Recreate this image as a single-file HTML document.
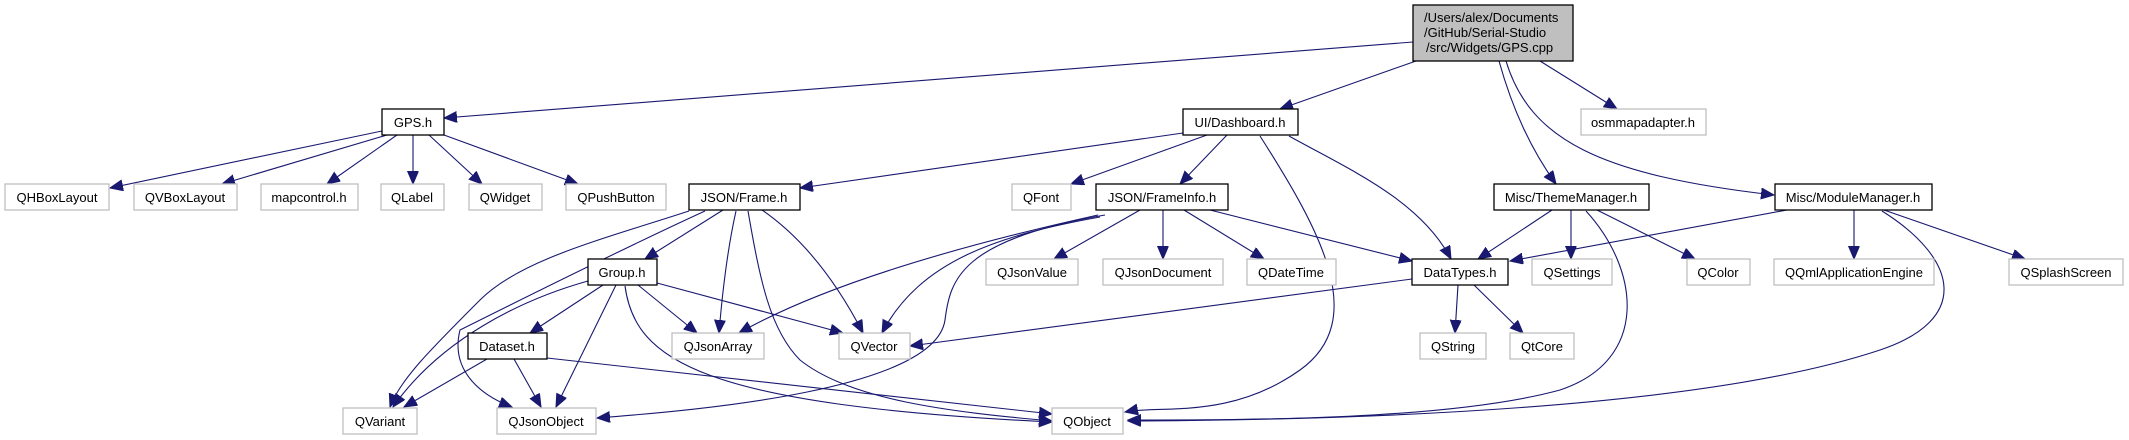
<!DOCTYPE html>
<html><head><meta charset="utf-8"><style>
html,body{margin:0;padding:0;background:#fff;}
svg{display:block;}
text{font-family:"Liberation Sans",Arial,sans-serif;font-size:13px;fill:#000;}
.n{fill:#fff;stroke:#000;stroke-width:1.3;}
.g{fill:#fff;stroke:#bfbfbf;stroke-width:1.3;}
.e{fill:none;stroke:#191970;stroke-width:1.1;marker-end:url(#a);}
</style></head><body>
<svg width="2129" height="440" viewBox="0 0 2129 440" xmlns="http://www.w3.org/2000/svg">
<defs><marker id="a" markerUnits="userSpaceOnUse" markerWidth="16" markerHeight="14" refX="13" refY="5.5" orient="auto"><path d="M0,0 L13,5.5 L0,11 Z" fill="#191970" stroke="#191970"/></marker></defs>
<g>
<path class="e" d="M1413,42 L444,118"/>
<path class="e" d="M1416,61 L1280,109"/>
<path class="e" d="M1540,61 L1617,109"/>
<path class="e" d="M1499,61 Q1519,133 1556,184"/>
<path class="e" d="M1506,61 C1530,140 1600,175 1774,195"/>
<path class="e" d="M382,131 L110,188"/>
<path class="e" d="M387,135 L222,184"/>
<path class="e" d="M397,135 L327,184"/>
<path class="e" d="M413,135 L413,184"/>
<path class="e" d="M429,135 L482,184"/>
<path class="e" d="M444,135 L578,184"/>
<path class="e" d="M1183,133 L800,188"/>
<path class="e" d="M1207,135 L1071,184"/>
<path class="e" d="M1227,135 L1180,184"/>
<path class="e" d="M1260,136 C1320,230 1370,320 1300,370 S1160,405 1125,412"/>
<path class="e" d="M1289,136 C1350,170 1420,200 1451,259"/>
<path class="e" d="M1210,210 L1412,261"/>
<path class="e" d="M1184,210 L1264,259"/>
<path class="e" d="M1163,210 L1163,259"/>
<path class="e" d="M1140,210 L1054,259"/>
<path class="e" d="M1098,215 Q850,270 739,333"/>
<path class="e" d="M1100,217 C1000,235 920,260 882,333"/>
<path class="e" d="M1105,215 C960,240 950,280 945,320 C935,390 700,410 597,418"/>
<path class="e" d="M723,210 L645,259"/>
<path class="e" d="M736,211 Q725,260 719,333"/>
<path class="e" d="M762,210 Q820,250 863,333"/>
<path class="e" d="M748,211 C760,280 770,330 800,360 C850,400 950,412 1052,421"/>
<path class="e" d="M689,211 C600,240 520,260 480,300 C430,350 400,380 390,407"/>
<path class="e" d="M705,211 C620,250 520,300 460,330 C450,370 480,395 512,407"/>
<path class="e" d="M603,285 L530,333"/>
<path class="e" d="M616,285 L556,407"/>
<path class="e" d="M638,285 L697,333"/>
<path class="e" d="M657,283 L843,333"/>
<path class="e" d="M588,281 C520,300 440,340 393,407"/>
<path class="e" d="M625,286 C635,360 700,405 1052,422"/>
<path class="e" d="M487,359 L404,407"/>
<path class="e" d="M514,359 L541,407"/>
<path class="e" d="M547,358 L1052,414"/>
<path class="e" d="M1412,279 L910,346"/>
<path class="e" d="M1458,285 L1455,333"/>
<path class="e" d="M1474,285 L1523,333"/>
<path class="e" d="M1552,210 L1478,259"/>
<path class="e" d="M1571,210 L1571,259"/>
<path class="e" d="M1597,210 L1695,259"/>
<path class="e" d="M1586,211 C1640,270 1650,360 1560,390 C1450,420 1250,420 1128,420"/>
<path class="e" d="M1787,210 L1510,261"/>
<path class="e" d="M1854,210 L1854,259"/>
<path class="e" d="M1884,210 L2025,259"/>
<path class="e" d="M1882,211 C1960,260 1970,320 1880,350 C1700,410 1350,420 1128,421"/>
</g>
<g>
<rect x="1413" y="5" width="160" height="56" fill="#bfbfbf" stroke="#000" stroke-width="1.3"/>
<text x="1424" y="22">/Users/alex/Documents</text>
<text x="1424" y="37">/GitHub/Serial-Studio</text>
<text x="1426" y="52">/src/Widgets/GPS.cpp</text>

<rect class="n" x="382" y="109" width="62" height="26"/><text x="413" y="127" text-anchor="middle">GPS.h</text>
<rect class="n" x="1183" y="109" width="115" height="26"/><text x="1240" y="127" text-anchor="middle">UI/Dashboard.h</text>
<rect class="g" x="1581" y="109" width="125" height="26"/><text x="1643" y="127" text-anchor="middle">osmmapadapter.h</text>

<rect class="g" x="5" y="184" width="104" height="26"/><text x="57" y="202" text-anchor="middle">QHBoxLayout</text>
<rect class="g" x="134" y="184" width="103" height="26"/><text x="185" y="202" text-anchor="middle">QVBoxLayout</text>
<rect class="g" x="261" y="184" width="97" height="26"/><text x="309" y="202" text-anchor="middle">mapcontrol.h</text>
<rect class="g" x="381" y="184" width="63" height="26"/><text x="412" y="202" text-anchor="middle">QLabel</text>
<rect class="g" x="469" y="184" width="73" height="26"/><text x="505" y="202" text-anchor="middle">QWidget</text>
<rect class="g" x="566" y="184" width="100" height="26"/><text x="616" y="202" text-anchor="middle">QPushButton</text>
<rect class="n" x="689" y="184" width="111" height="26"/><text x="744" y="202" text-anchor="middle">JSON/Frame.h</text>
<rect class="g" x="1012" y="184" width="59" height="26"/><text x="1041" y="202" text-anchor="middle">QFont</text>
<rect class="n" x="1096" y="184" width="132" height="26"/><text x="1162" y="202" text-anchor="middle">JSON/FrameInfo.h</text>
<rect class="n" x="1494" y="184" width="155" height="26"/><text x="1571" y="202" text-anchor="middle">Misc/ThemeManager.h</text>
<rect class="n" x="1775" y="184" width="157" height="26"/><text x="1853" y="202" text-anchor="middle">Misc/ModuleManager.h</text>

<rect class="n" x="588" y="259" width="69" height="26"/><text x="622" y="277" text-anchor="middle">Group.h</text>
<rect class="g" x="986" y="259" width="92" height="26"/><text x="1032" y="277" text-anchor="middle">QJsonValue</text>
<rect class="g" x="1103" y="259" width="120" height="26"/><text x="1163" y="277" text-anchor="middle">QJsonDocument</text>
<rect class="g" x="1247" y="259" width="89" height="26"/><text x="1291" y="277" text-anchor="middle">QDateTime</text>
<rect class="n" x="1412" y="259" width="96" height="26"/><text x="1460" y="277" text-anchor="middle">DataTypes.h</text>
<rect class="g" x="1532" y="259" width="80" height="26"/><text x="1572" y="277" text-anchor="middle">QSettings</text>
<rect class="g" x="1687" y="259" width="63" height="26"/><text x="1718" y="277" text-anchor="middle">QColor</text>
<rect class="g" x="1774" y="259" width="160" height="26"/><text x="1854" y="277" text-anchor="middle">QQmlApplicationEngine</text>
<rect class="g" x="2009" y="259" width="114" height="26"/><text x="2066" y="277" text-anchor="middle">QSplashScreen</text>

<rect class="n" x="468" y="333" width="79" height="26"/><text x="507" y="351" text-anchor="middle">Dataset.h</text>
<rect class="g" x="672" y="333" width="92" height="26"/><text x="718" y="351" text-anchor="middle">QJsonArray</text>
<rect class="g" x="839" y="333" width="71" height="26"/><text x="874" y="351" text-anchor="middle">QVector</text>
<rect class="g" x="1420" y="333" width="66" height="26"/><text x="1453" y="351" text-anchor="middle">QString</text>
<rect class="g" x="1510" y="333" width="64" height="26"/><text x="1542" y="351" text-anchor="middle">QtCore</text>

<rect class="g" x="343" y="408" width="74" height="26"/><text x="380" y="426" text-anchor="middle">QVariant</text>
<rect class="g" x="497" y="408" width="99" height="26"/><text x="546" y="426" text-anchor="middle">QJsonObject</text>
<rect class="g" x="1052" y="408" width="71" height="26"/><text x="1087" y="426" text-anchor="middle">QObject</text>
</g>
</svg>
</body></html>
